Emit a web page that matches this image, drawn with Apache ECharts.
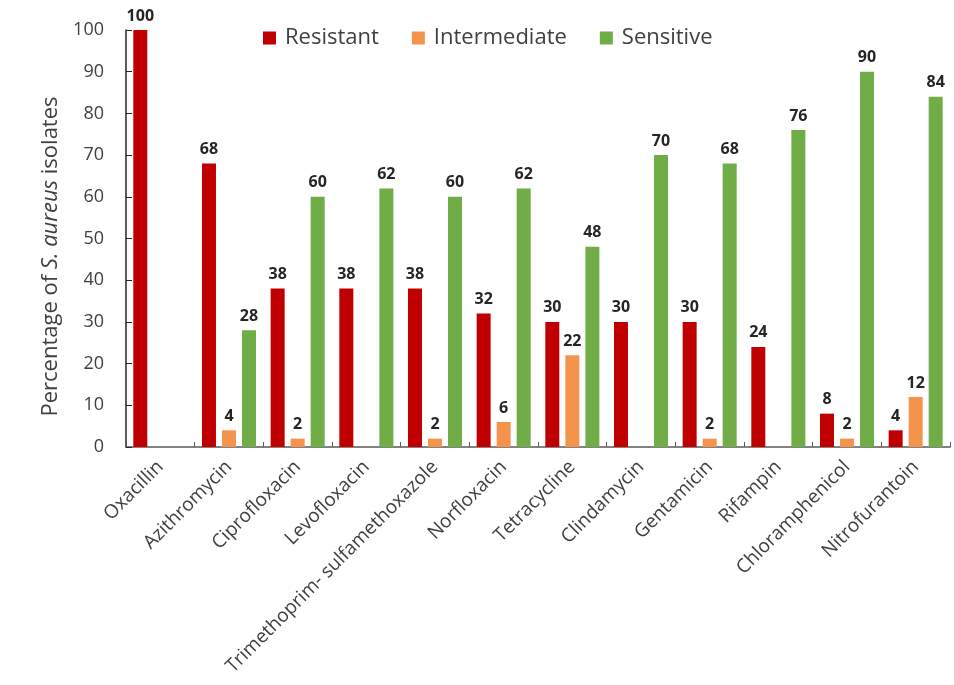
<!DOCTYPE html>
<html>
<head>
<meta charset="utf-8">
<script src="https://cdn.jsdelivr.net/npm/echarts@6/dist/echarts.min.js"></script>
<style>
  html, body { margin: 0; padding: 0; background: #fff; }
  #chart { width: 954px; height: 685px; }
</style>
</head>
<body>
<div id="chart"></div>
<script>
// Antimicrobial susceptibility of S. aureus isolates (%)
const antibiotics = ['Oxacillin', 'Azithromycin', 'Ciprofloxacin', 'Levofloxacin',
  'Trimethoprim- sulfamethoxazole', 'Norfloxacin', 'Tetracycline', 'Clindamycin',
  'Gentamicin', 'Rifampin', 'Chloramphenicol', 'Nitrofurantoin'];
const resistant    = [100, 68, 38, 38, 38, 32, 30, 30, 30, 24, 8, 4];
const intermediate = [0, 4, 2, 0, 2, 6, 22, 0, 2, 0, 2, 12];
const sensitive    = [0, 28, 60, 62, 60, 62, 48, 70, 68, 76, 90, 84];
const yTicks = [0, 10, 20, 30, 40, 50, 60, 70, 80, 90, 100];

const font = '"Open Sans", "Noto Sans", sans-serif';

function barSeries(name, values, color) {
  return {
    name: name,
    type: 'bar',
    data: values,
    barWidth: 14,
    barGap: '43%',
    itemStyle: { color: color },
    label: {
      show: true,
      position: 'top',
      distance: 6,
      fontFamily: font,
      fontWeight: 'bold',
      fontSize: 16,
      color: '#262626',
      // zero values carry no bar and no label
      formatter: p => (p.value ? String(p.value) : '')
    }
  };
}

const chart = echarts.init(document.getElementById('chart'), null, { renderer: 'canvas' });
chart.setOption({
  animation: false,
  backgroundColor: '#ffffff',
  textStyle: { fontFamily: font },
  legend: {
    top: 22,
    left: 258,
    itemWidth: 13,
    itemHeight: 13,
    itemGap: 33,
    icon: 'rect',
    textStyle: { fontFamily: font, fontSize: 22, color: '#404040', padding: [0, 0, 0, 4] },
    data: ['Resistant', 'Intermediate', 'Sensitive']
  },
  grid: { left: 126, right: 4, top: 30, bottom: 238, containLabel: false },
  xAxis: {
    type: 'category',
    data: antibiotics,
    axisLine: { lineStyle: { color: '#595959', width: 1.5 } },
    axisTick: { show: true, inside: true, length: 5, lineStyle: { color: '#595959' } },
    axisLabel: {
      rotate: 45,
      interval: 0,
      margin: 17,
      fontFamily: font,
      fontSize: 19,
      color: '#404040'
    }
  },
  yAxis: {
    type: 'value',
    min: yTicks[0],
    max: yTicks[yTicks.length - 1],
    interval: 10,
    splitLine: { show: false },
    axisLine: { show: true, lineStyle: { color: '#262626', width: 1.5 } },
    axisTick: { show: true, inside: true, length: 6, lineStyle: { color: '#262626' } },
    axisLabel: { fontFamily: font, fontSize: 18, color: '#404040', margin: 22 },
    name: 'Percentage of {i|S. aureus} isolates',
    nameLocation: 'middle',
    nameGap: 59,
    nameRotate: 90,
    nameTextStyle: {
      fontFamily: font,
      fontSize: 22,
      color: '#404040',
      padding: [0, 36, 0, 0],
      rich: {
        i: { fontFamily: font, fontSize: 22, fontStyle: 'italic', color: '#404040' }
      }
    }
  },
  series: [
    barSeries('Resistant', resistant, '#C00000'),
    barSeries('Intermediate', intermediate, '#F4934C'),
    barSeries('Sensitive', sensitive, '#70AD47')
  ]
});
</script>
</body>
</html>
